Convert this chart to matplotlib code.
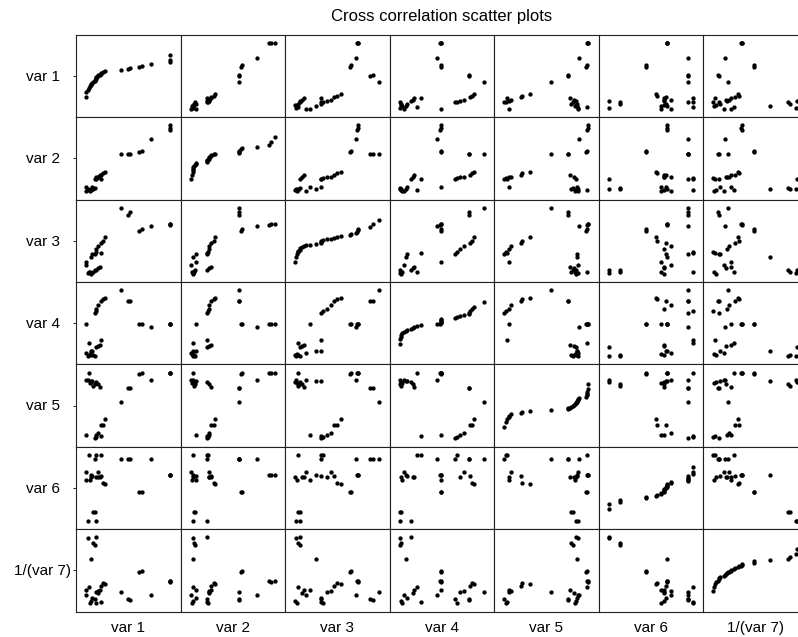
from statistics import NormalDist
from matplotlib import pyplot as plt
import numpy as np

plt.rcParams['font.family'] = ['Liberation Sans', 'DejaVu Sans']

TITLE = 'Cross correlation scatter plots'
names = ['var 1', 'var 2', 'var 3', 'var 4', 'var 5', 'var 6', '1/(var 7)']

# one value per observation (30 observations), same row order in every list
var1 = [1.00, 1.00, 1.00, 0.77, 0.66, 0.63, 0.52, 0.50, 0.41, 0.02,
        0.08, 0.10, 0.06, 0.04, 0.05, 0.12, 0.14, 0.16, 0.00, 0.07,
        0.03, 0.10, 0.11, 0.12, 0.14, 0.18, 0.20, 0.22, 0.17, 0.00]
var2 = [1.00, 0.96, 0.93, 0.79, 0.61, 0.60, 0.57, 0.57, 0.57, 0.03,
        0.04, 0.05, 0.02, 0.01, 0.03, 0.19, 0.22, 0.24, 0.00, 0.06,
        0.02, 0.19, 0.20, 0.21, 0.22, 0.24, 0.27, 0.29, 0.19, 0.06]
var3 = [0.75, 0.75, 0.74, 0.72, 0.67, 0.65, 0.93, 0.89, 1.00, 0.01,
        0.03, 0.05, 0.00, 0.02, 0.25, 0.06, 0.08, 0.10, 0.13, 0.30,
        0.03, 0.30, 0.33, 0.38, 0.42, 0.46, 0.50, 0.55, 0.31, 0.17]
var4 = [0.49, 0.49, 0.48, 0.44, 0.49, 0.49, 0.83, 0.83, 1.00, 0.00,
        0.01, 0.00, 0.01, 0.03, 0.07, 0.13, 0.16, 0.17, 0.05, 0.08,
        0.20, 0.66, 0.68, 0.72, 0.77, 0.84, 0.86, 0.88, 0.25, 0.49]
var5 = [1.00, 1.00, 0.99, 0.89, 0.99, 0.98, 0.76, 0.76, 0.56, 0.88,
        0.80, 0.82, 0.86, 0.84, 0.87, 0.85, 0.83, 0.78, 0.88, 0.87,
        0.99, 0.00, 0.02, 0.05, 0.08, 0.20, 0.21, 0.30, 0.03, 0.06]
var6 = [0.70, 0.70, 0.70, 0.94, 0.44, 0.44, 0.94, 0.94, 0.94, 0.00,
        0.13, 0.13, 0.66, 0.62, 0.70, 0.00, 0.66, 0.66, 0.74, 0.68,
        1.00, 0.94, 1.00, 0.66, 0.74, 0.68, 0.58, 0.56, 1.00, 0.62]
var7_inv = [0.33, 0.32, 0.33, 0.13, 0.48, 0.47, 0.05, 0.07, 0.17, 0.97,
            0.90, 0.87, 0.03, 0.01, 0.66, 0.98, 0.15, 0.20, 0.12, 0.08,
            0.24, 0.07, 0.00, 0.16, 0.18, 0.25, 0.30, 0.29, 0.02, 0.20]

data = [np.array(v) for v in [var1, var2, var3, var4, var5, var6, var7_inv]]
n_var = len(data)
n_obs = len(var1)

# normal scores for the diagonal (sorted values against quantiles)
nd = NormalDist()
qscores = np.array([nd.inv_cdf((i + 0.5) / n_obs) for i in range(n_obs)])
qlim = qscores.max() / 0.51

W, H = 798, 637
left_px, top_px = 76, 34.7
cell_w, cell_h = 104.5, 82.4

fig = plt.figure(figsize=(W / 100, H / 100), dpi=100)


def lims(v):
    lo, hi = v.min(), v.max()
    pad = 0.125 * (hi - lo)
    return lo - pad, hi + pad


for r in range(n_var):
    for c in range(n_var):
        x0 = (left_px + c * cell_w) / W
        y0 = 1 - (top_px + (r + 1) * cell_h) / H
        ax = fig.add_axes([x0, y0, cell_w / W, cell_h / H])
        if r == c:
            order = np.argsort(data[c], kind='stable')
            ax.plot(data[c][order], qscores, 'o', color='black', ms=3.1, mew=0)
            ax.set_ylim(-qlim, qlim)
            mid = 0
        else:
            ax.plot(data[c], data[r], 'o', color='black', ms=3.1, mew=0)
            ax.set_ylim(*lims(data[r]))
            mid = sum(lims(data[r])) / 2
        ax.set_xlim(*lims(data[c]))
        ax.set_xticks([])
        if c == 0:
            ax.set_yticks([mid])
            ax.tick_params(axis='y', length=2.5, width=0.6, labelleft=False)
        else:
            ax.set_yticks([])
        for sp in ax.spines.values():
            sp.set_linewidth(0.8)
            sp.set_color('#222222')

        if c == 0:
            fig.text(43 / W, 1 - (top_px + (r + 0.5) * cell_h + 1) / H, names[r],
                     ha='center', va='center', fontsize=11)
        if r == n_var - 1:
            fig.text((left_px + (c + 0.5) * cell_w) / W, 1 - 632 / H, names[c],
                     ha='center', va='baseline', fontsize=11)

fig.text(442 / W, 1 - 17 / H, TITLE, ha='center', va='center', fontsize=12)

fig.savefig('out.png', dpi=100)
